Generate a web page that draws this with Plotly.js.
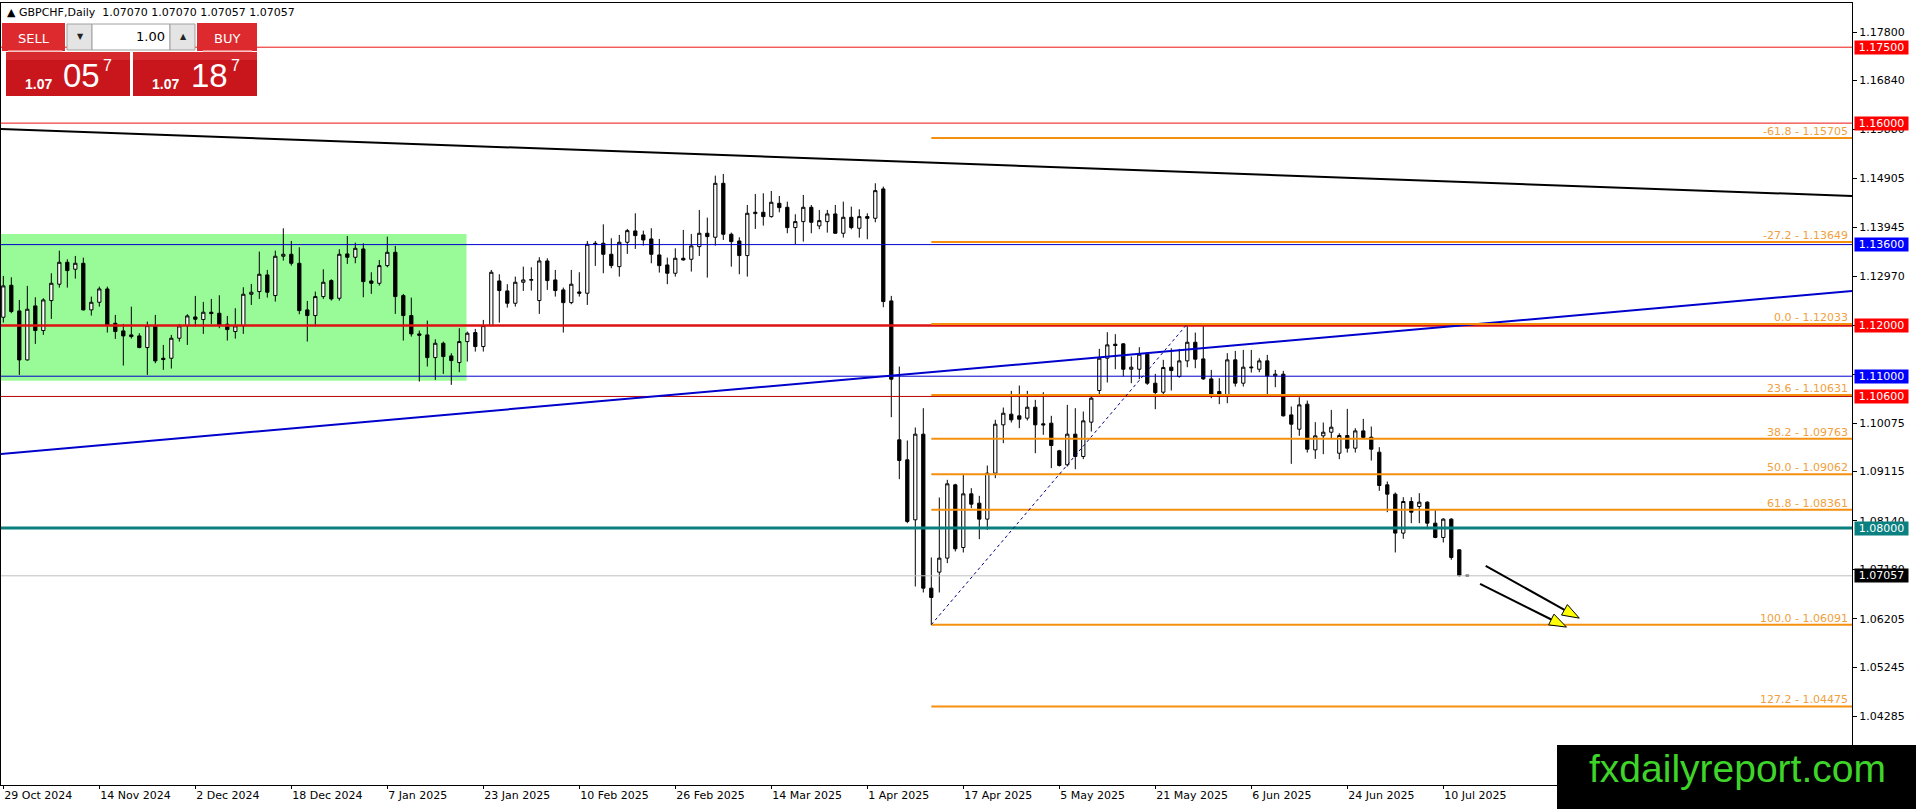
<!DOCTYPE html>
<html>
<head>
<meta charset="utf-8">
<script src="https://cdn.plot.ly/plotly-3.0.1.min.js"></script>
<style>
html,body{margin:0;padding:0;background:#fff;overflow:hidden;}
#chart{width:1916px;height:809px;}
</style>
</head>
<body>
<div id="chart"></div>
<script>
// ---------------- DATA ----------------
const symbolTitle = 'GBPCHF,Daily';
const lastQuote = ['1.07070', '1.07070', '1.07057', '1.07057'];

const openP = [
1.12165,1.12797,1.12290,1.11322,1.12389,1.11902,1.12494,1.12817,1.13251,1.13113,
1.13231,1.12310,1.12461,1.12724,1.12046,1.11895,1.11816,1.11796,1.11566,1.12000,
1.11355,1.11355,1.11750,1.11994,1.12171,1.12119,1.12264,1.12244,1.12027,1.11882,
1.11994,1.12619,1.12672,1.13001,1.12593,1.13370,1.13409,1.13231,1.12310,1.12198,
1.12573,1.12889,1.12540,1.13416,1.13350,1.13514,1.12882,1.12836,1.13185,1.13448,
1.12593,1.12198,1.11836,1.11816,1.11368,1.11651,1.11401,1.11270,1.11684,1.11862,
1.11586,1.12000,1.12882,1.12685,1.12441,1.12856,1.12896,1.12494,1.13277,1.12902,
1.12705,1.12454,1.12665,1.12639,1.13626,1.13626,1.13409,1.13165,1.13646,1.13870,
1.13791,1.13712,1.13396,1.13198,1.13034,1.13330,1.13310,1.13560,1.13824,1.13745,
1.14811,1.13804,1.13672,1.13383,1.14212,1.14239,1.14153,1.14416,1.14337,1.13936,
1.14054,1.14337,1.13969,1.14054,1.14206,1.13824,1.14140,1.13923,1.14153,1.14120,
1.14700,1.12488,1.09743,1.09348,1.08163,1.09855,1.06813,1.07129,1.07406,1.08854,
1.07616,1.08676,1.08492,1.08176,1.09084,1.10039,1.10250,1.10217,1.10171,1.10388,
1.10059,1.10072,1.09526,1.09249,1.09855,1.09414,1.10092,1.10717,1.11356,1.11632,
1.11639,1.11138,1.11138,1.11435,1.10862,1.10684,1.11178,1.10993,1.11303,1.11671,
1.11342,1.10947,1.10697,1.10599,1.11323,1.10862,1.11165,1.11138,1.11303,1.11007,
1.11040,1.10236,1.09953,1.10447,1.09545,1.09822,1.09894,1.09479,1.09828,1.09578,
1.09920,1.09795,1.09499,1.08854,1.08670,1.07900,1.08525,1.08426,1.08512,1.08097,
1.07814,1.08176,1.07570,1.07070];
const highP = [
1.12981,1.12955,1.12507,1.12784,1.12560,1.12540,1.13034,1.13481,1.13310,1.13376,
1.13343,1.12573,1.12770,1.12770,1.12211,1.12033,1.12375,1.11849,1.12079,1.12211,
1.11618,1.11816,1.12033,1.12224,1.12586,1.12468,1.12527,1.12599,1.12191,1.12343,
1.12757,1.12823,1.13462,1.13100,1.13481,1.13922,1.13672,1.13547,1.12487,1.12672,
1.13113,1.12915,1.13508,1.13771,1.13639,1.13626,1.13054,1.13297,1.13758,1.13574,
1.12626,1.12553,1.11902,1.12099,1.11730,1.11684,1.11454,1.11948,1.11882,1.11934,
1.12112,1.13100,1.13014,1.12817,1.12968,1.13165,1.13152,1.13350,1.13330,1.13100,
1.12751,1.13100,1.13054,1.13672,1.13672,1.14001,1.13725,1.13791,1.13909,1.14219,
1.13876,1.13923,1.13712,1.13343,1.13527,1.13890,1.13811,1.14285,1.14133,1.14963,
1.14996,1.13837,1.13745,1.14383,1.14601,1.14614,1.14660,1.14561,1.14449,1.14199,
1.14581,1.14383,1.14285,1.14285,1.14383,1.14449,1.14350,1.14298,1.14219,1.14811,
1.14746,1.12587,1.11191,1.09730,1.09986,1.10368,1.07419,1.08604,1.08953,1.08874,
1.09071,1.08788,1.08637,1.09236,1.10138,1.10381,1.10711,1.10816,1.10711,1.10533,
1.10684,1.10217,1.09546,1.10434,1.10368,1.10302,1.10631,1.11540,1.11869,1.11830,
1.11652,1.11389,1.11573,1.11474,1.11046,1.11323,1.11553,1.11540,1.12027,1.11862,
1.12001,1.11125,1.10960,1.11454,1.11500,1.11520,1.11520,1.11355,1.11421,1.11125,
1.11105,1.10401,1.10585,1.10519,1.10092,1.10085,1.10335,1.09874,1.10355,1.09973,
1.10157,1.10006,1.09598,1.08920,1.08703,1.08610,1.08610,1.08689,1.08530,1.08373,
1.08196,1.08196,1.07580,1.07070];
const lowP = [
1.12060,1.12244,1.11026,1.11310,1.11638,1.11816,1.12132,1.12751,1.12751,1.12928,
1.12300,1.12198,1.12375,1.11862,1.11737,1.11210,1.11743,1.11553,1.11026,1.11256,
1.11125,1.11151,1.11684,1.11618,1.11981,1.11836,1.12033,1.11948,1.11704,1.11743,
1.11836,1.12408,1.12527,1.12553,1.12474,1.13284,1.13185,1.12224,1.11684,1.11981,
1.12527,1.12494,1.12494,1.13218,1.13231,1.12560,1.12626,1.12790,1.13152,1.12231,
1.11704,1.11783,1.10894,1.11191,1.10927,1.11046,1.10829,1.11079,1.11289,1.11487,
1.11487,1.11990,1.12060,1.12356,1.12376,1.12685,1.12692,1.12231,1.12705,1.12573,
1.11862,1.12422,1.12573,1.12408,1.13179,1.13034,1.13133,1.12968,1.13416,1.13514,
1.13580,1.13231,1.13047,1.12817,1.12968,1.13284,1.13067,1.13376,1.12948,1.13580,
1.13692,1.13165,1.13014,1.12968,1.13909,1.13975,1.14133,1.14239,1.13824,1.13607,
1.13659,1.13824,1.13903,1.13837,1.13811,1.13738,1.13903,1.13738,1.13705,1.14041,
1.12363,1.10190,1.08966,1.08097,1.06846,1.06728,1.06091,1.06728,1.07307,1.07538,
1.07518,1.08393,1.07781,1.07965,1.08986,1.09677,1.10085,1.09973,1.10125,1.09479,
1.09842,1.09183,1.09216,1.09216,1.09163,1.09361,1.09907,1.10631,1.10875,1.11138,
1.10994,1.10862,1.10941,1.10829,1.10348,1.10599,1.10717,1.10974,1.11178,1.11158,
1.10928,1.10566,1.10447,1.10467,1.10796,1.10796,1.11072,1.11079,1.10631,1.10783,
1.10203,1.09269,1.09822,1.09492,1.09367,1.09460,1.09762,1.09361,1.09492,1.09492,
1.09756,1.09334,1.08735,1.08314,1.07518,1.07788,1.08097,1.08097,1.07978,1.07800,
1.07715,1.07373,1.07044,1.07057];
const closeP = [
1.12784,1.12277,1.11322,1.12323,1.11902,1.12507,1.12836,1.13251,1.13086,1.13231,
1.12310,1.12461,1.12724,1.12000,1.11882,1.11796,1.11783,1.11566,1.12000,1.11302,
1.11329,1.11750,1.11994,1.12191,1.12125,1.12264,1.12237,1.12000,1.11921,1.11994,
1.12619,1.12659,1.13014,1.12659,1.13370,1.13409,1.13231,1.12296,1.12198,1.12573,
1.12856,1.12527,1.13409,1.13350,1.13527,1.12869,1.12836,1.13185,1.13448,1.12573,
1.12198,1.11836,1.11809,1.11368,1.11651,1.11388,1.11309,1.11684,1.11849,1.11586,
1.12000,1.13054,1.12692,1.12441,1.12856,1.12902,1.12909,1.13277,1.12889,1.12692,
1.12454,1.12817,1.12639,1.13607,1.13607,1.13409,1.13185,1.13646,1.13876,1.13778,
1.13692,1.13409,1.13185,1.13034,1.13330,1.13297,1.13574,1.13824,1.13758,1.14811,
1.13804,1.13659,1.13383,1.14219,1.14239,1.14153,1.14436,1.14331,1.13936,1.14054,
1.14337,1.14041,1.14074,1.14206,1.13824,1.14140,1.13936,1.14153,1.14120,1.14666,
1.12475,1.10941,1.09335,1.08130,1.09855,1.06813,1.06629,1.07406,1.08874,1.07590,
1.08676,1.08472,1.08176,1.09084,1.10052,1.10269,1.10138,1.10151,1.10388,1.10039,
1.10039,1.09631,1.09236,1.09855,1.09414,1.10118,1.10566,1.11356,1.11619,1.11606,
1.11138,1.11178,1.11435,1.10862,1.10678,1.11171,1.11112,1.11303,1.11671,1.11336,
1.10947,1.10612,1.10599,1.11323,1.10862,1.11178,1.11178,1.11303,1.11007,1.11040,
1.10217,1.10052,1.10434,1.09558,1.09822,1.09894,1.09993,1.09828,1.09578,1.09920,
1.09789,1.09558,1.08841,1.08670,1.07900,1.08525,1.08314,1.08512,1.08097,1.07814,
1.08176,1.07419,1.07060,1.07057];

// x-axis date labels (one every 12 daily bars)
const dateTickBars = [0,12,24,36,48,60,72,84,96,108,120,132,144,156,168,180];
const dateTickLabels = ['29 Oct 2024','14 Nov 2024','2 Dec 2024','18 Dec 2024','7 Jan 2025','23 Jan 2025',
  '10 Feb 2025','26 Feb 2025','14 Mar 2025','1 Apr 2025','17 Apr 2025','5 May 2025','21 May 2025',
  '6 Jun 2025','24 Jun 2025','10 Jul 2025'];

// price axis ticks
const priceTicks = [1.17800,1.16840,1.15880,1.14905,1.13945,1.12970,1.12010,1.11035,1.10075,
  1.09115,1.08140,1.07180,1.06205,1.05245,1.04285];

// horizontal price levels
const levelPrices = [1.17500,1.16000,1.13600,1.12000,1.11000,1.10600,1.08000,1.07057];

// fibonacci retracement
const fibStartBar = 116, fibEndBar = 148;
const fibLowPrice = 1.06091, fibHighPrice = 1.12033;
const fibLevelNames = ['-61.8','-27.2','0.0','23.6','38.2','50.0','61.8','100.0','127.2'];
const fibLevelPrices = [1.15705,1.13649,1.12033,1.10631,1.09763,1.09062,1.08361,1.06091,1.04475];

// trend lines [barStart, priceStart, barEnd, priceEnd]
const blackTrend = [-0.29, 1.15884, 231.09, 1.14560];
const blueTrend  = [-0.29, 1.09463, 231.09, 1.12683];

// range box [barStart, priceTop, barEnd, priceBottom]
const rangeBox = [-0.3, 1.13810, 57.9, 1.10911];

// projection arrows [barStart, priceStart, barEnd, priceEnd]
const arrows = [
  [185.3, 1.07253, 197.0, 1.06221],
  [184.6, 1.06898, 195.4, 1.06043]
];

// one-click trading panel
const sellBig = '05', buyBig = '18', pricePrefix = '1.07', pipette = '7', lotSize = '1.00';
const watermark = 'fxdailyreport.com';

// ---------------- STYLES / LAYOUT ----------------
const levelColors = ['#ee1111','#ee1111','#0000cc','#dd1111','#0000cc','#b80000','#0a7f7f','#c0c0c0'];
const levelWidths = [1,1,1,2.5,1,1,3,1];
const levelLabelBg = ['#ff0000','#ff0000','#0000ff','#ff0000','#0000ff','#ff0000','#0a8080','#000000'];
const FIB_COLOR = '#f5900f', FIB_TEXT = '#f0a040';
const FONT = 'DejaVu Sans, Verdana, sans-serif';

const W = 1916, H = 809;
const M = {l:1, r:64, t:3, b:24};
const PW = W - M.l - M.r, PH = H - M.t - M.b;
const xRange = [-0.29, 231.09];
const yRange = [1.02924, 1.18373];
const SX = PW / (xRange[1]-xRange[0]);   // px per bar
const SY = PH / (yRange[1]-yRange[0]);   // px per price unit

const px = x => (x - M.l) / PW;
const py = y => (M.t + PH - y) / PH;

const bars = openP.map((_, i) => i);

const shapes = [];
const annotations = [];

// range box (background)
shapes.push({type:'rect', xref:'x', yref:'y', x0:rangeBox[0], x1:rangeBox[2], y0:rangeBox[3], y1:rangeBox[1],
  fillcolor:'#98fb98', line:{width:0}, layer:'below'});

// horizontal levels
levelPrices.forEach((p, i) => {
  shapes.push({type:'line', xref:'paper', yref:'y', x0:0, x1:1, y0:p, y1:p,
    line:{color:levelColors[i], width:levelWidths[i]}, layer:'above'});
});

// trend lines
shapes.push({type:'line', xref:'x', yref:'y', x0:blackTrend[0], y0:blackTrend[1], x1:blackTrend[2], y1:blackTrend[3],
  line:{color:'#000000', width:2}, layer:'above'});
shapes.push({type:'line', xref:'x', yref:'y', x0:blueTrend[0], y0:blueTrend[1], x1:blueTrend[2], y1:blueTrend[3],
  line:{color:'#0000cc', width:2}, layer:'above'});

// fibonacci
fibLevelPrices.forEach((p, i) => {
  shapes.push({type:'line', xref:'x', yref:'y', x0:fibStartBar, x1:xRange[1]+5, y0:p, y1:p,
    line:{color:FIB_COLOR, width:2}, layer:'above'});
  annotations.push({xref:'paper', yref:'y', x:1, y:p, xanchor:'right', yanchor:'bottom', xshift:-2, yshift:-2,
    text: fibLevelNames[i] + ' - ' + p.toFixed(5), showarrow:false,
    font:{family:FONT, size:11, color:FIB_TEXT}});
});
shapes.push({type:'line', xref:'x', yref:'y', x0:fibStartBar, y0:fibLowPrice, x1:fibEndBar, y1:fibHighPrice,
  line:{color:'#000080', width:1, dash:'3px,3px'}, layer:'above'});

// arrows
arrows.forEach(a => {
  const [x0, y0, x1, y1] = a;
  const dxp = (x1 - x0) * SX, dyp = -(y1 - y0) * SY;
  const len = Math.hypot(dxp, dyp);
  const ux = dxp/len, uy = dyp/len;
  const hl = 17, hw = 6;
  const toData = (ox, oy) => [x1 + ox/SX, y1 - oy/SY];
  const base = toData(-ux*hl, -uy*hl);
  const c1 = toData(-ux*hl - uy*hw, -uy*hl + ux*hw);
  const c2 = toData(-ux*hl + uy*hw, -uy*hl - ux*hw);
  shapes.push({type:'line', xref:'x', yref:'y', x0:x0, y0:y0, x1:base[0], y1:base[1],
    line:{color:'#000000', width:2}, layer:'above'});
  shapes.push({type:'path', xref:'x', yref:'y',
    path:`M ${x1} ${y1} L ${c1[0]} ${c1[1]} L ${c2[0]} ${c2[1]} Z`,
    fillcolor:'#ffff00', line:{color:'#000000', width:1}, layer:'above'});
});

// right-axis price labels
levelPrices.forEach((p, i) => {
  annotations.push({xref:'paper', yref:'y', x:1, y:p, xanchor:'left', yanchor:'middle', xshift:2,
    text:p.toFixed(5), showarrow:false, bgcolor:levelLabelBg[i], width:53, height:13, borderpad:0,
    font:{family:FONT, size:11, color:'#ffffff'}});
});

// header text
annotations.push({xref:'paper', yref:'paper', x:px(5), y:py(12), xanchor:'left', yanchor:'middle',
  text:'\u25B2 ' + symbolTitle + '\u00a0\u00a0' + lastQuote.join(' '), showarrow:false,
  font:{family:FONT, size:11, color:'#000000'}});

// one-click trading panel
function rect(x0, y0, x1, y1, fill, line) {
  shapes.push({type:'rect', xref:'paper', yref:'paper', x0:px(x0), x1:px(x1), y0:py(y1), y1:py(y0),
    fillcolor:fill, line:{color: line || fill, width: line ? 1 : 0}, layer:'above'});
}
function txt(x, y, text, size, color, xanchor, family) {
  annotations.push({xref:'paper', yref:'paper', x:px(x), y:py(y), xanchor:xanchor || 'center', yanchor:'middle',
    text:text, showarrow:false, borderpad:0, font:{family:family || FONT, size:size, color:color}});
}
rect(2, 23, 65, 51, '#dc2a2e');
rect(8, 50, 62, 51.5, '#f08888');
rect(67, 24, 92, 50, '#e4e4e4', '#a0a0a0');
rect(92, 24, 170, 50, '#ffffff', '#a0a0a0');
rect(170, 24, 195, 50, '#e4e4e4', '#a0a0a0');
rect(197, 23, 257, 51, '#dc2a2e');
rect(203, 50, 252, 51.5, '#f08888');
rect(6, 52, 130, 96, '#c8161c');
rect(133, 52, 257, 96, '#c8161c');
rect(6, 52, 130, 60, '#d62a2e');
rect(133, 52, 257, 60, '#d62a2e');
txt(34, 38, 'SELL', 13, '#ffffff');
txt(227, 38, 'BUY', 13, '#ffffff');
txt(80, 37, '\u25BC', 8, '#222222');
txt(183, 37, '\u25B2', 8, '#222222');
txt(166, 37, lotSize, 13, '#000000', 'right');
const SANS = 'Liberation Sans, Arial, sans-serif';
txt(24, 84, '<b>' + pricePrefix + '</b>', 14, '#ffffff', 'left', SANS);
txt(62, 75, sellBig, 33, '#ffffff', 'left', SANS);
txt(102, 65, pipette, 16, '#ffffff', 'left', SANS);
txt(151, 84, '<b>' + pricePrefix + '</b>', 14, '#ffffff', 'left', SANS);
txt(190, 75, buyBig, 33, '#ffffff', 'left', SANS);
txt(230, 65, pipette, 16, '#ffffff', 'left', SANS);

// watermark
rect(1557, 745, 1920, 812, '#000000');
txt(1737, 768, watermark, 39, '#3fd42a', 'center', SANS);

const trace = {
  type:'candlestick', x:bars, open:openP, high:highP, low:lowP, close:closeP,
  increasing:{line:{color:'#000000', width:1}, fillcolor:'#ffffff'},
  decreasing:{line:{color:'#000000', width:1}, fillcolor:'#000000'},
  whiskerwidth:0, hoverinfo:'skip', showlegend:false
};

const layout = {
  width:W, height:H, margin:{l:M.l, r:M.r, t:M.t, b:M.b, pad:0},
  paper_bgcolor:'#ffffff', plot_bgcolor:'#ffffff',
  showlegend:false, hovermode:false, boxgap:0.42,
  font:{family:FONT, size:11, color:'#000000'},
  xaxis:{range:xRange, showgrid:false, zeroline:false, showline:true, mirror:true, linecolor:'#000000', linewidth:1,
    tickmode:'array', tickvals:dateTickBars, ticktext:dateTickLabels, ticks:'outside', ticklen:3, tickcolor:'#000000',
    ticklabelposition:'outside right', tickfont:{family:FONT, size:11, color:'#000000'},
    rangeslider:{visible:false}, fixedrange:true},
  yaxis:{range:yRange, side:'right', showgrid:false, zeroline:false, showline:true, mirror:true, linecolor:'#000000', linewidth:1,
    tickmode:'array', tickvals:priceTicks, ticktext:priceTicks.map(v => v.toFixed(5)), ticks:'outside', ticklen:4, tickcolor:'#000000',
    tickfont:{family:FONT, size:11, color:'#000000'}, fixedrange:true},
  shapes:shapes, annotations:annotations
};

Plotly.newPlot('chart', [trace], layout, {staticPlot:true, displayModeBar:false});
</script>
</body>
</html>
